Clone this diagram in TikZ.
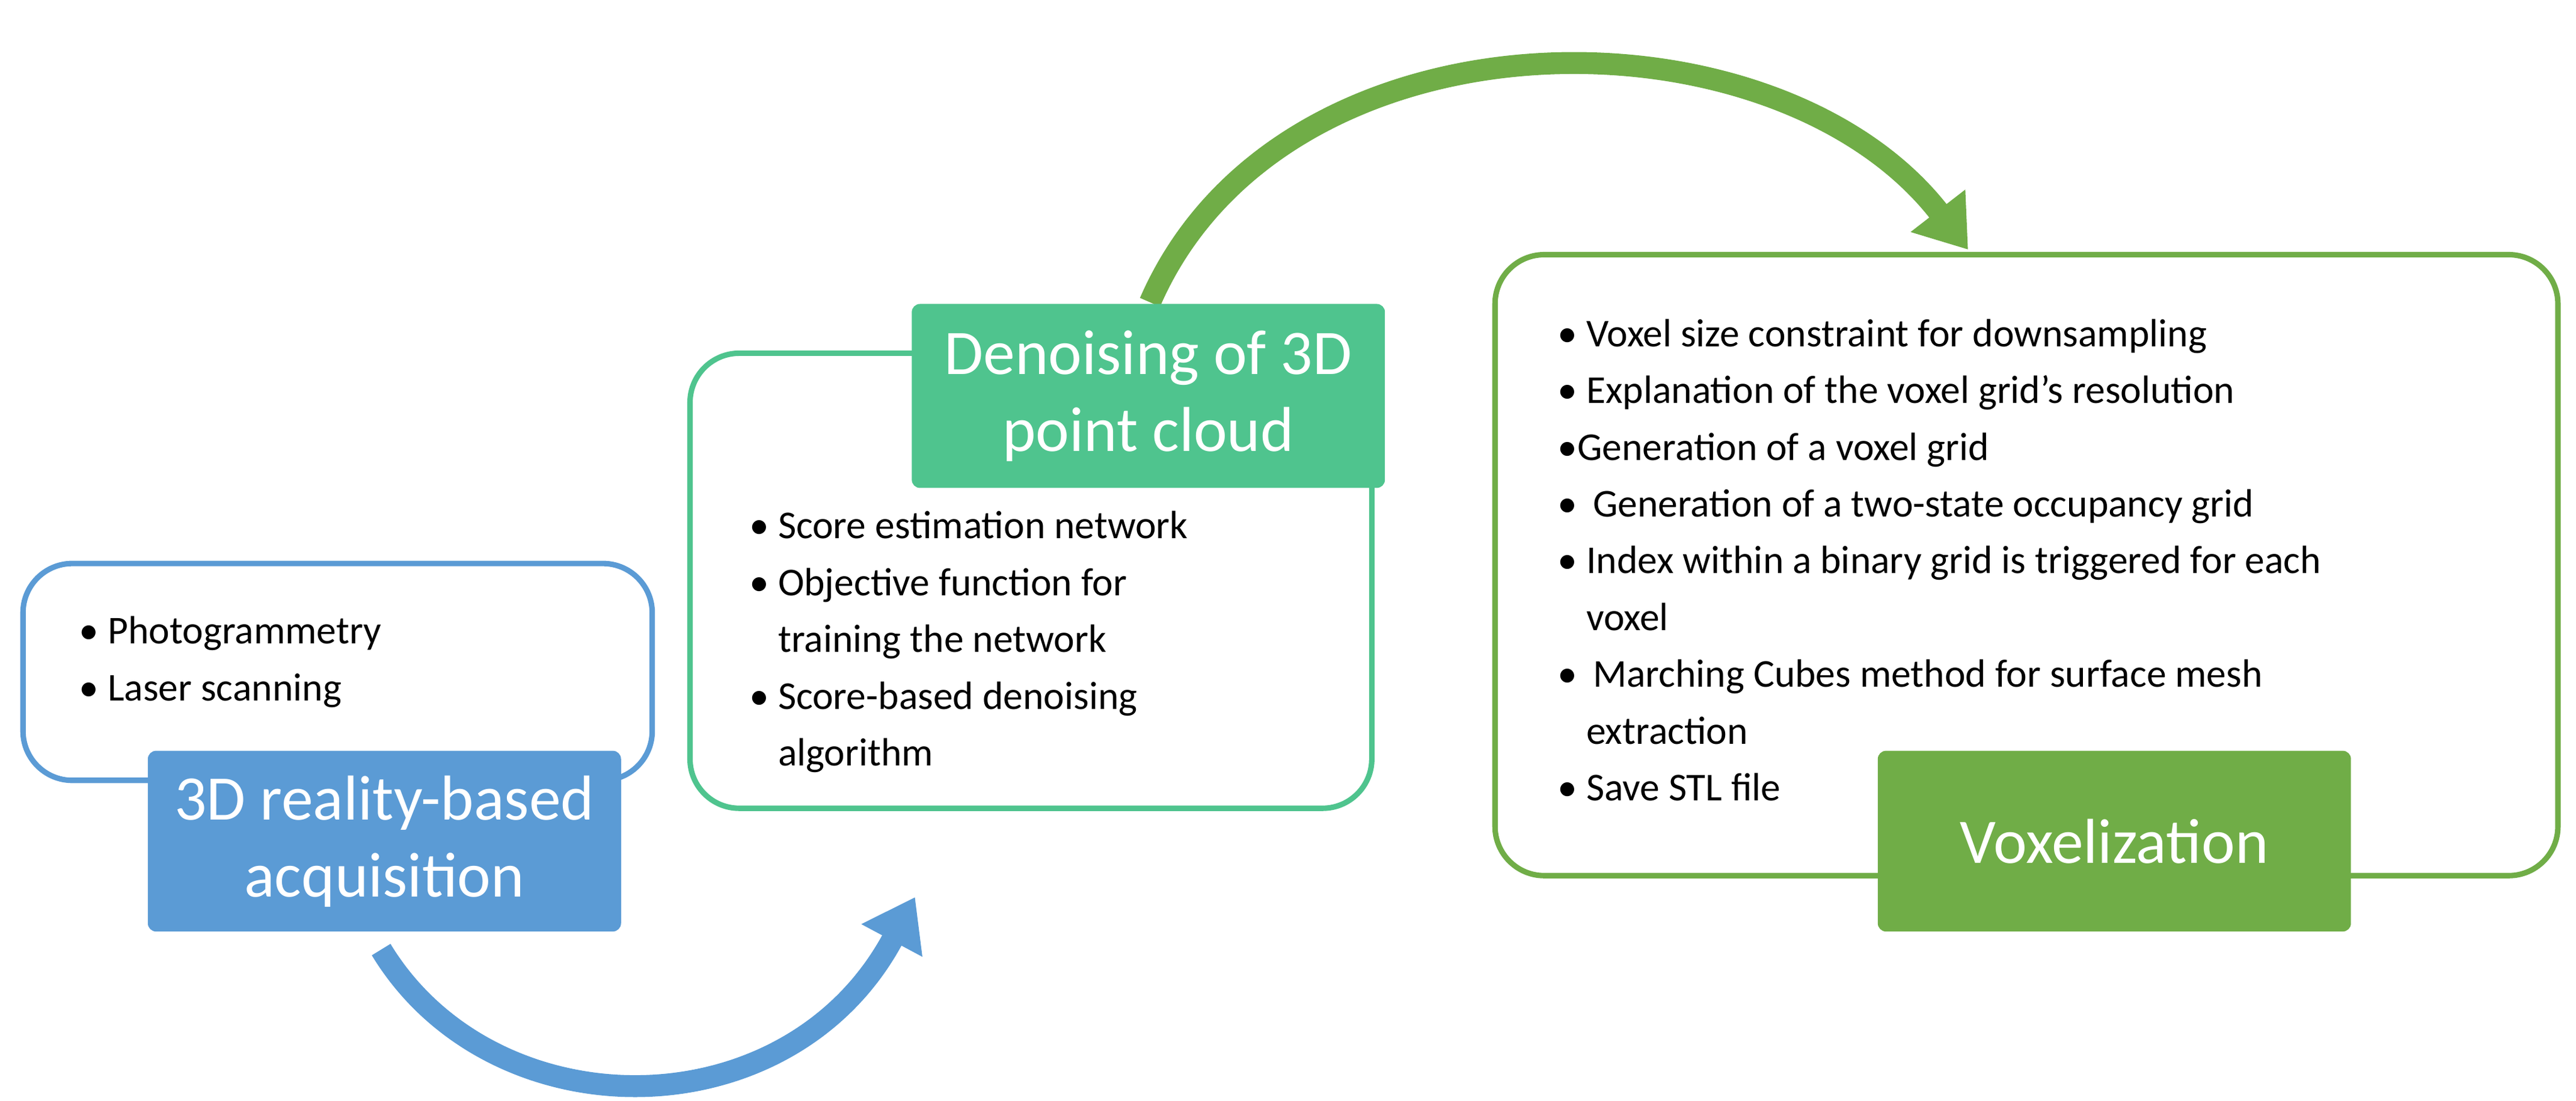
\documentclass[tikz,border=0pt]{standalone}
\usepackage{fontspec}
\setmainfont{Carlito}
\usetikzlibrary{arrows.meta}
\definecolor{bl}{HTML}{5B9BD5}
\definecolor{gm}{HTML}{4FC48E}
\definecolor{gv}{HTML}{70AD47}
\begin{document}
\begin{tikzpicture}[x=0.3mm,y=-0.3mm,
  outl/.style={line width=1mm,rounded corners=9mm},
  head/.style={rounded corners=1.5mm,text=white,align=center,font=\fontsize{33}{40}\selectfont,inner sep=0pt},
  txt/.style={anchor=north west,align=left,font=\fontsize{20.5}{29.5}\selectfont,inner sep=0pt},
  arr/.style={line width=4mm,-{Triangle[length=9mm,width=12mm]}}]
\useasboundingbox (0,0) rectangle (1568,670);
% arrows
\coordinate (a1) at (232,578); \coordinate (a2) at (557,546);
\draw[arr,bl] (a1) .. controls (300,690) and (480,690) .. (a2);
\coordinate (g1) at (700,184); \coordinate (g2) at (1198,152);
\draw[arr,gv] (g1) .. controls (780,0) and (1080,0) .. (g2);
% boxes
\draw[outl,bl] (14,343) rectangle (397,475);
\draw[outl,gm] (420,215) rectangle (835,492);
\draw[outl,gv] (910,155) rectangle (1557,533);
\node[head,fill=bl,minimum width=288*0.3mm,minimum height=110*0.3mm] (h1) at (234,512) {3D reality-based\\acquisition};
\node[head,fill=gm,minimum width=288*0.3mm,minimum height=112*0.3mm] (h2) at (699,241) {Denoising of 3D\\point cloud};
\node[head,fill=gv,minimum width=288*0.3mm,minimum height=110*0.3mm] (h3) at (1287,512) {Voxelization};
% texts
\node[txt] (t1) at (48,375) {• Photogrammetry\\• Laser scanning};
\node[txt] (t2) at (456,311) {• Score estimation network\\• Objective function for\\\phantom{• }training the network\\• Score-based denoising\\\phantom{• }algorithm};
\node[txt] (t3) at (948,194) {• Voxel size constraint for downsampling\\• Explanation of the voxel grid's resolution\\•Generation of a voxel grid\\• \,Generation of a two-state occupancy grid\\• Index within a binary grid is triggered for each\\\phantom{•} voxel\\• \,Marching Cubes method for surface mesh\\\phantom{• }extraction\\• Save STL file};
\end{tikzpicture}
\end{document}
